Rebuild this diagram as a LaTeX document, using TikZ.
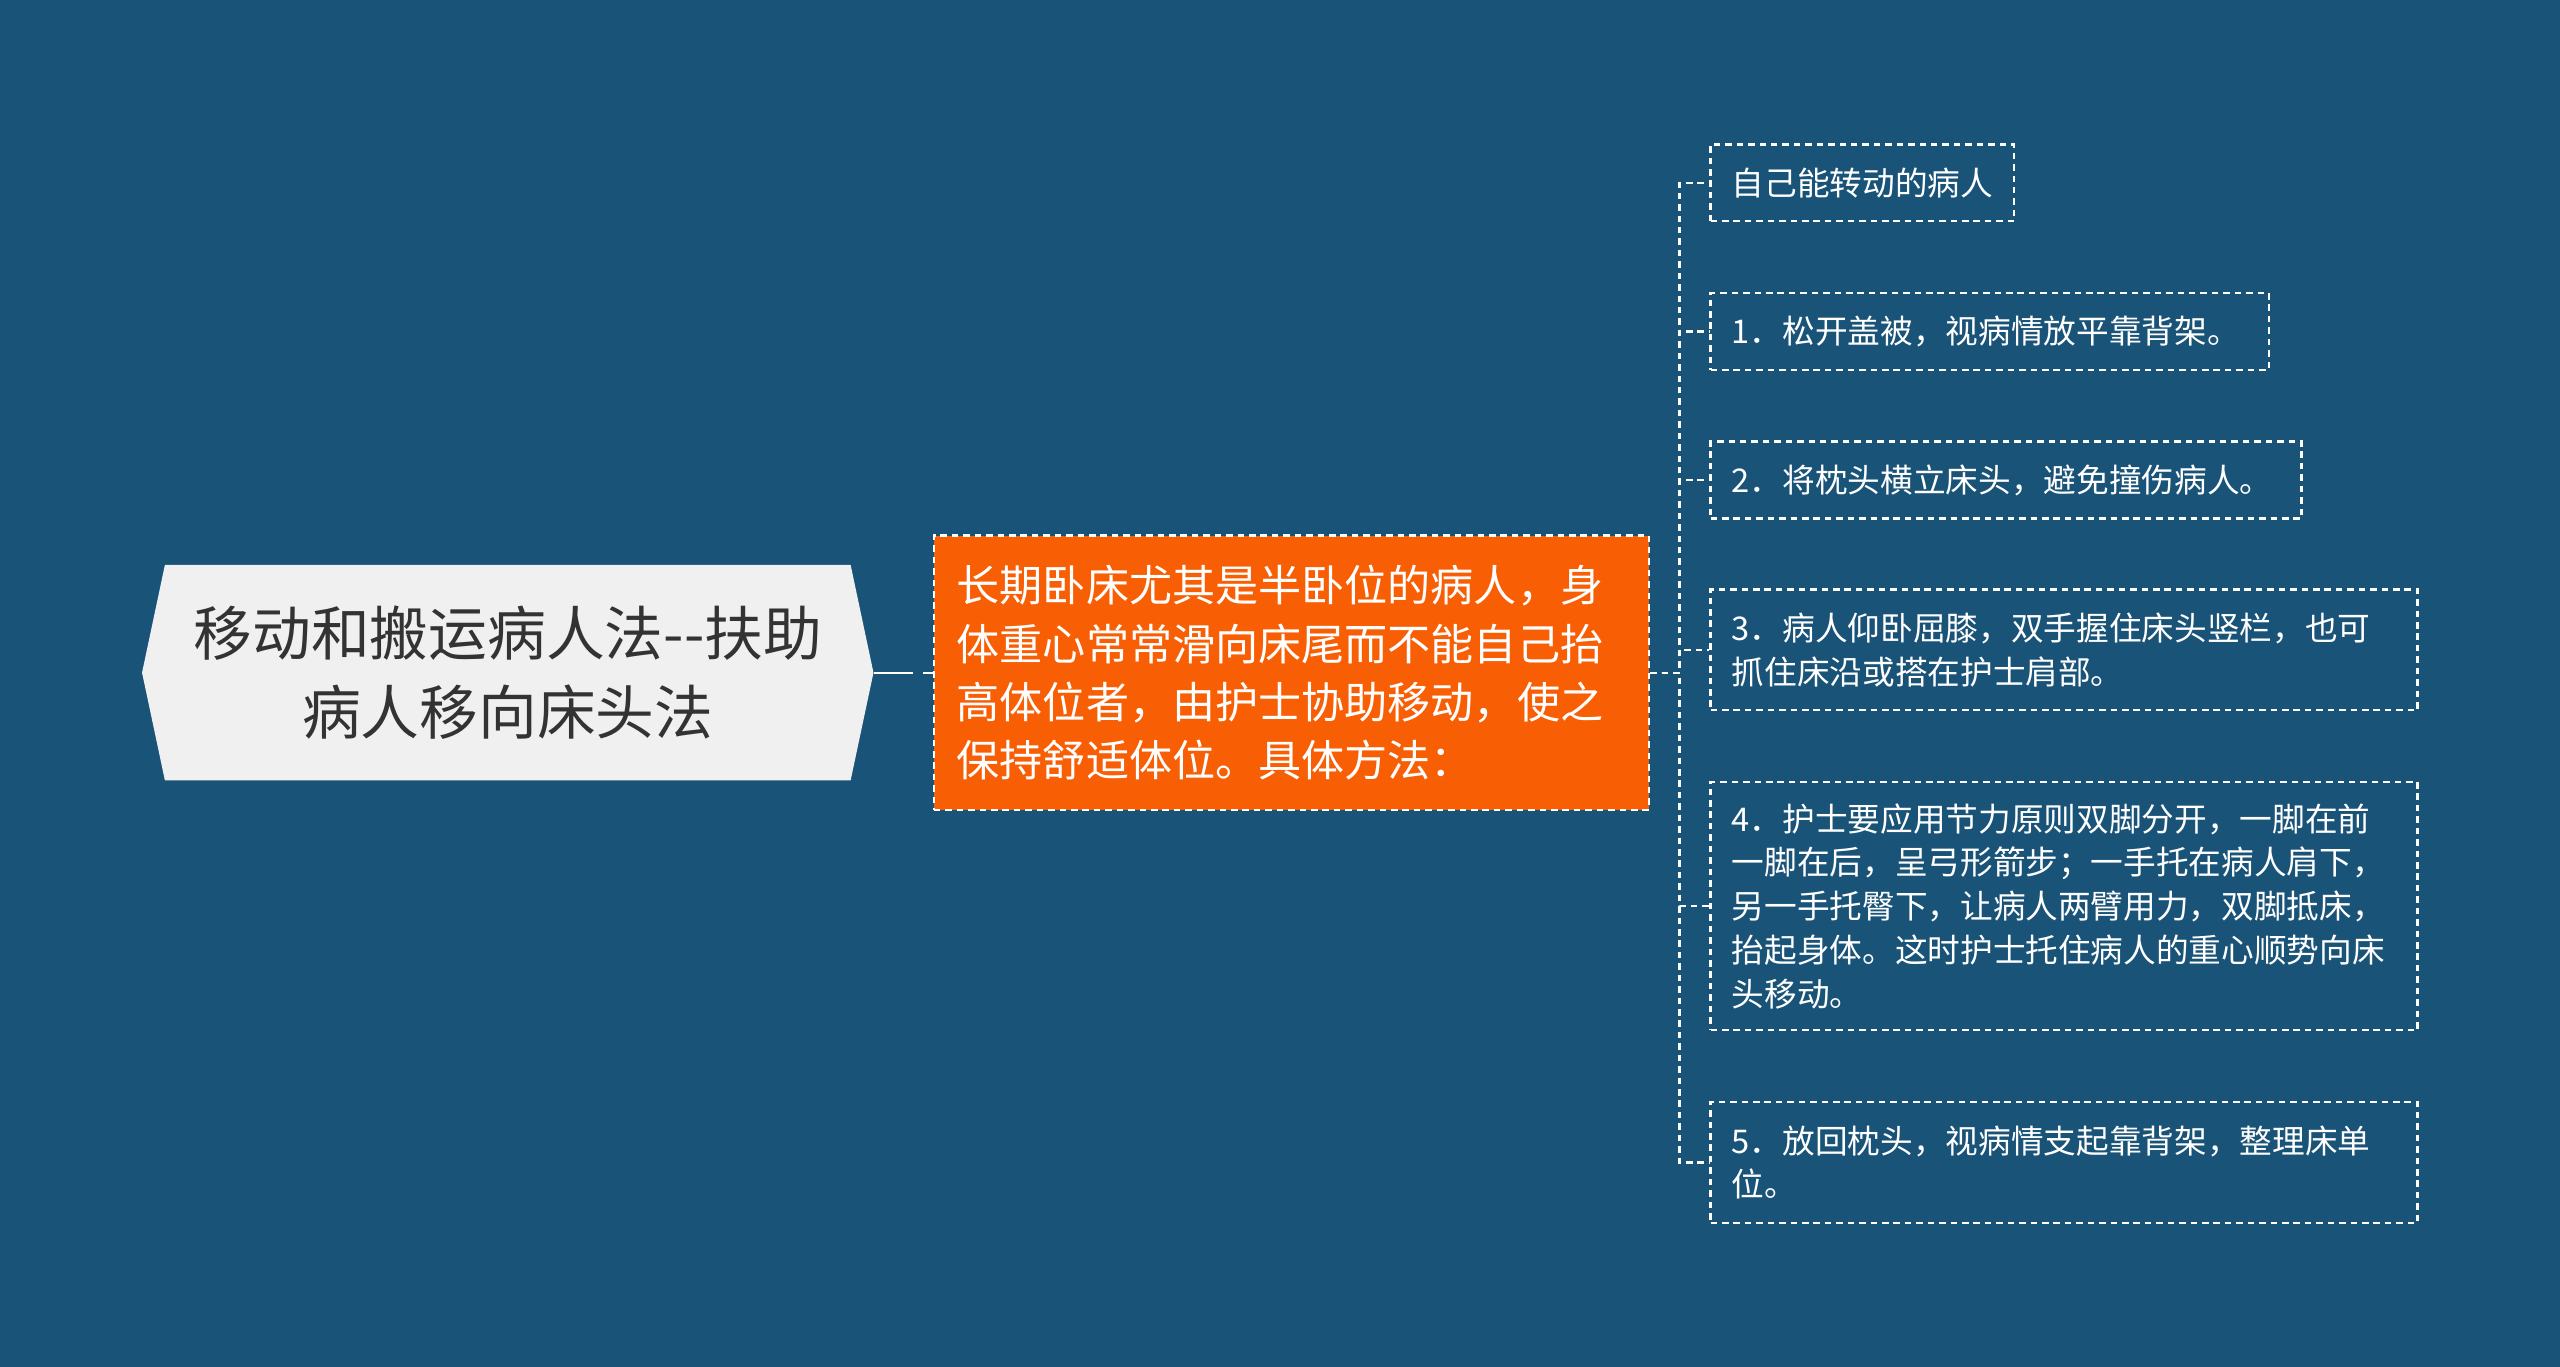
\documentclass[tikz,border=0pt]{standalone}
\usepackage{fontspec}
\setmainfont{Noto Sans CJK SC}
\definecolor{bgblue}{RGB}{26,83,120}
\definecolor{rootfill}{RGB}{240,240,240}
\definecolor{roottext}{RGB}{51,51,51}
\definecolor{mainorange}{RGB}{248,94,4}
\tikzset{
  dashline/.style={draw=white, line width=1.4pt, dash pattern=on 4pt off 3pt},
  rootnode/.style={inner sep=0pt, minimum width=448pt, minimum height=132pt, align=center,
    text=roottext, font=\fontsize{36}{48}\selectfont},
  mainnode/.style={dashline, fill=mainorange, inner xsep=14pt, inner ysep=0pt,
    minimum width=438pt, minimum height=168pt, text width=410pt, align=left,
    text=white, font=\fontsize{26.4}{35.7}\selectfont},
  leafnode/.style={dashline, anchor=west, inner xsep=13pt, inner ysep=0pt,
    align=left, text=white, font=\fontsize{20}{26.8}\selectfont},
  conn/.style={dashline}
}
\begin{document}
\begin{tikzpicture}[x=1pt,y=-1pt]
\fill[bgblue] (0,0) rectangle (1568,837);
\useasboundingbox (0,0) rectangle (1568,837);
% root hexagon
\fill[rootfill] (87,412) -- (101,346) -- (521,346) -- (535,412) -- (521,478) -- (101,478) -- cycle;
\node[rootnode] (root) at (311,412) {移动和搬运病人法-{}-扶助\\病人移向床头法};
% main orange
\node[mainnode] (main) at (791,412) {长期卧床尤其是半卧位的病人，身\\体重心常常滑向床尾而不能自己抬\\高体位者，由护士协助移动，使之\\保持舒适体位。具体方法：};
\draw[white, line width=1.4pt, dash pattern=on 24pt off 6pt on 7pt off 0pt] (root.east) -- (main.west);
% leaves
\node[leafnode, minimum width=186pt, minimum height=47pt, text width=160pt] (l0) at (1047,112) {自己能转动的病人};
\node[leafnode, minimum width=342pt, minimum height=47pt, text width=316pt] (l1) at (1047,203) {1．松开盖被，视病情放平靠背架。};
\node[leafnode, minimum width=362pt, minimum height=47pt, text width=336pt] (l2) at (1047,294) {2．将枕头横立床头，避免撞伤病人。};
\node[leafnode, minimum width=433pt, minimum height=74pt, text width=407pt] (l3) at (1047,398) {3．病人仰卧屈膝，双手握住床头竖栏，也可\\抓住床沿或搭在护士肩部。};
\node[leafnode, minimum width=433pt, minimum height=152pt, text width=407pt] (l4) at (1047,555) {4．护士要应用节力原则双脚分开，一脚在前\\一脚在后，呈弓形箭步；一手托在病人肩下，\\另一手托臀下，让病人两臂用力，双脚抵床，\\抬起身体。这时护士托住病人的重心顺势向床\\头移动。};
\node[leafnode, minimum width=433pt, minimum height=74pt, text width=407pt] (l5) at (1047,712) {5．放回枕头，视病情支起靠背架，整理床单\\位。};
% connectors
\foreach \n in {l0,l1,l2,l3,l4,l5}{
  \draw[conn] (main.east) -- ++(18,0) |- (\n.west);
}
\end{tikzpicture}
\end{document}
